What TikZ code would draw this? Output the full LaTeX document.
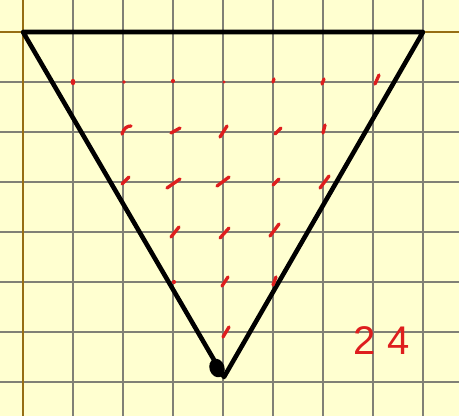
\documentclass[tikz,border=0pt]{standalone}
\usepackage{fontspec}
\setsansfont{Liberation Sans}
\definecolor{paper}{RGB}{255,255,208}
\definecolor{gridgray}{RGB}{128,128,118}
\definecolor{axisbrown}{RGB}{150,110,20}
\definecolor{inkred}{RGB}{222,30,30}
\tikzset{
  gridline/.style={draw=gridgray, line width=1.3pt},
  axisline/.style={draw=axisbrown, line width=1.8pt},
  tri/.style={draw=black, line width=4.6pt, line join=round},
  tick/.style={draw=inkred, line width=3.3pt, line cap=round},
  dotmark/.style={fill=inkred, draw=none}
}
\begin{document}
\begin{tikzpicture}[x=1pt,y=-1pt]
\fill[paper] (0,0) rectangle (459,416);
\useasboundingbox (0,0) rectangle (459,416);
% grid
\foreach \x in {73,123,...,423} \draw[gridline] (\x,0) -- (\x,416);
\foreach \y in {82,132,...,382} \draw[gridline] (0,\y) -- (459,\y);
% axes
\draw[axisline] (23,0) -- (23,416);
\draw[axisline] (0,32) -- (459,32);
% triangle
\coordinate (A) at (23,32);
\coordinate (B) at (423,32);
\coordinate (C) at (224,377);
\draw[tri] (A) -- (B) -- (C) -- cycle;
\fill[black, rotate around={20:(217,368)}] (217,368) ellipse (7.5 and 9.5);
% red marks row 82
\fill[dotmark] (73,82) ellipse (2.4 and 3.2);
\fill[dotmark] (124,82) circle (1.9);
\fill[dotmark] (173,81) circle (2.1);
\fill[dotmark] (224,82) circle (1.6);
\draw[tick] (273,82) -- (274,79);
\draw[tick] (322,84) -- (324,79);
\draw[tick] (375,84) -- (379,75);
% row 132
\draw[tick] (122,134) .. controls (124,128) and (127,126) .. (131,126);
\draw[tick] (171,133) -- (180,128);
\draw[tick] (220,137) -- (227,126);
\draw[tick] (275,134) -- (281,128);
\draw[tick] (323,133) -- (325,125);
% row 182
\draw[tick] (122,184) -- (129,177);
\draw[tick] (167,188) -- (180,179);
\draw[tick] (217,186) -- (229,177);
\draw[tick] (273,185) -- (279,179);
\draw[tick] (320,188) -- (329,176);
% row 232
\draw[tick] (171,237) -- (179,227);
\draw[tick] (220,238) -- (229,228);
\draw[tick] (270,236) -- (279,224);
% row 282
\fill[dotmark] (174,282) circle (2.1);
\draw[tick] (222,286) -- (228,277);
\draw[tick] (273,285) -- (276,277);
% row 332
\draw[tick] (223,337) -- (229,327);
% label
\node[text=inkred, font=\sffamily\fontsize{40}{40}\selectfont, inner sep=0pt] (lbl) at (382,341) {2\hspace{12pt}4};
\end{tikzpicture}
\end{document}
